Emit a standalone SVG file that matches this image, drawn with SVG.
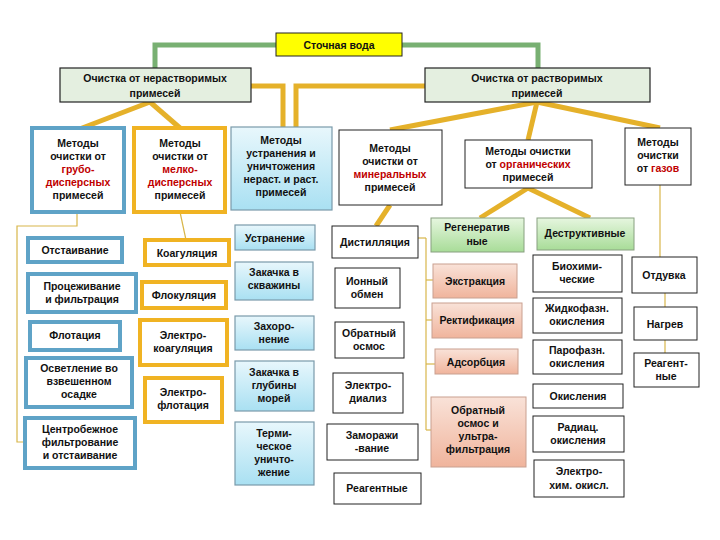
<svg xmlns="http://www.w3.org/2000/svg" width="720" height="540" viewBox="0 0 720 540">
<defs>
<linearGradient id="cy" x1="0" y1="0" x2="0" y2="1"><stop offset="0" stop-color="#e8f7fc"/><stop offset="1" stop-color="#a9e0f2"/></linearGradient>
<linearGradient id="sal" x1="0" y1="0" x2="0" y2="1"><stop offset="0" stop-color="#f9e2d8"/><stop offset="1" stop-color="#f0b49c"/></linearGradient>
<linearGradient id="gr" x1="0" y1="0" x2="0" y2="1"><stop offset="0" stop-color="#e6f6df"/><stop offset="1" stop-color="#a8dc98"/></linearGradient>
</defs>
<style>
text{font-family:"Liberation Sans",Arial,sans-serif;font-size:10.5px;font-weight:bold !important;fill:#111;text-anchor:middle}
.r{fill:#c00000}
.top{fill:#ffff00;stroke:#222;stroke-width:1}
.lg{fill:#e4efe0;stroke:#222;stroke-width:1.2}
.bl{fill:#fff;stroke:#5fa3c7;stroke-width:4}
.or{fill:#fff;stroke:#f0b323;stroke-width:4}
.cy{fill:url(#cy);stroke:#7a9aaa;stroke-width:1.2}
.wh{fill:#fff;stroke:#222;stroke-width:1}
.sa{fill:url(#sal);stroke:#c9a090;stroke-width:1}
.gn{fill:url(#gr);stroke:#88a080;stroke-width:1}
.cg{fill:none;stroke:#78b072;stroke-width:5}
.co{fill:none;stroke:#e5b12a;stroke-width:5}
.ct{fill:none;stroke:#d8b64a;stroke-width:1.2}
</style>
<g id="connectors">
<polyline class="cg" points="276,45 155,45 155,68"/>
<polyline class="cg" points="402,45 538,45 538,68"/>
<polyline class="co" points="251,86 283,86 283,128"/>
<polyline class="co" points="425,86 296,86 296,128"/>
<line class="co" x1="150" y1="102" x2="77" y2="130"/>
<line class="co" x1="150" y1="102" x2="180" y2="128"/>
<line class="co" x1="537" y1="102" x2="390" y2="130"/>
<line class="co" x1="537" y1="102" x2="528" y2="140"/>
<line class="co" x1="537" y1="102" x2="660" y2="128"/>
<line class="co" x1="390" y1="205" x2="376" y2="226"/>
<line class="co" x1="528" y1="188" x2="480" y2="218"/>
<line class="co" x1="528" y1="188" x2="590" y2="218"/>
<polyline class="ct" points="77,212 77,226 17,226 17,442 25,442"/>
<line class="ct" x1="180" y1="212" x2="186" y2="240"/>
<polyline class="ct" points="418,238 426,238"/>
<line class="ct" x1="426" y1="238" x2="426" y2="430"/>
<line class="ct" x1="426" y1="280" x2="433" y2="280"/>
<line class="ct" x1="426" y1="320" x2="432" y2="320"/>
<line class="ct" x1="426" y1="364" x2="435" y2="364"/>
<line class="ct" x1="426" y1="430" x2="431" y2="430"/>
<line class="ct" x1="660" y1="185" x2="660" y2="257"/>
<line class="ct" x1="665" y1="293" x2="665" y2="307"/>
<line class="ct" x1="665" y1="340" x2="665" y2="353"/>
</g>
<g id="n-top"><rect class="top" x="276" y="33" width="126" height="23"/><text x="339" y="49">Сточная вода</text></g>
<g id="n-insol"><rect class="lg" x="60" y="68" width="191" height="34"/><text x="155" y="82">Очистка от нерастворимых</text><text x="155" y="97">примесей</text></g>
<g id="n-sol"><rect class="lg" x="425" y="68" width="225" height="34"/><text x="537" y="82">Очистка от растворимых</text><text x="537" y="97">примесей</text></g>
<g id="n-coarse"><rect class="bl" x="32" y="128" width="92" height="84"/><text x="78" y="147">Методы</text><text x="78" y="160">очистки от</text><text x="78" y="173" class="r">грубо-</text><text x="78" y="186" class="r">дисперсных</text><text x="78" y="199">примесей</text></g>
<g id="n-fine"><rect class="or" x="134" y="128" width="91" height="84"/><text x="180" y="147">Методы</text><text x="180" y="160">очистки от</text><text x="180" y="173" class="r">мелко-</text><text x="180" y="186" class="r">дисперсных</text><text x="180" y="199">примесей</text></g>
<g id="n-elim"><rect class="cy" x="231" y="127" width="101" height="83"/><text x="281" y="144">Методы</text><text x="281" y="157">устранения и</text><text x="281" y="170">уничтожения</text><text x="281" y="183">нераст. и раст.</text><text x="281" y="196">примесей</text></g>
<g id="n-min"><rect class="wh" x="339" y="130" width="103" height="75"/><text x="390" y="152">Методы</text><text x="390" y="165">очистки от</text><text x="390" y="178" class="r">минеральных</text><text x="390" y="191">примесей</text></g>
<g id="n-org"><rect class="wh" x="465" y="140" width="127" height="48"/><text x="528" y="155">Методы очистки</text><text x="528" y="168">от <tspan class="r">органических</tspan></text><text x="528" y="181">примесей</text></g>
<g id="n-gas"><rect class="wh" x="625" y="128" width="66" height="57"/><text x="658" y="146">Методы</text><text x="658" y="159">очистки</text><text x="658" y="172">от <tspan class="r">газов</tspan></text></g>
<g id="n-b1"><rect class="bl" x="28" y="238" width="94" height="24"/><text x="75" y="254">Отстаивание</text></g>
<g id="n-b2"><rect class="bl" x="28" y="274" width="108" height="38"/><text x="82" y="290">Процеживание</text><text x="82" y="303">и фильтрация</text></g>
<g id="n-b3"><rect class="bl" x="30" y="322" width="90" height="28"/><text x="75" y="339">Флотация</text></g>
<g id="n-b4"><rect class="bl" x="26" y="358" width="106" height="49"/><text x="79" y="372">Осветление во</text><text x="79" y="385">взвешенном</text><text x="79" y="398">осадке</text></g>
<g id="n-b5"><rect class="bl" x="25" y="418" width="110" height="50"/><text x="80" y="433">Центробежное</text><text x="80" y="446">фильтрование</text><text x="80" y="459">и отстаивание</text></g>
<g id="n-o1"><rect class="or" x="145" y="240" width="84" height="25"/><text x="187" y="257">Коагуляция</text></g>
<g id="n-o2"><rect class="or" x="142" y="282" width="84" height="26"/><text x="184" y="299">Флокуляция</text></g>
<g id="n-o3"><rect class="or" x="140" y="320" width="87" height="45"/><text x="183" y="339">Электро-</text><text x="183" y="352">коагуляция</text></g>
<g id="n-o4"><rect class="or" x="145" y="378" width="77" height="44"/><text x="183" y="396">Электро-</text><text x="183" y="409">флотация</text></g>
<g id="n-c1"><rect class="cy" x="235" y="225" width="80" height="25"/><text x="275" y="242">Устранение</text></g>
<g id="n-c2"><rect class="cy" x="235" y="262" width="78" height="38"/><text x="274" y="276">Закачка в</text><text x="274" y="289">скважины</text></g>
<g id="n-c3"><rect class="cy" x="235" y="316" width="79" height="34"/><text x="274" y="330">Захоро-</text><text x="274" y="343">нение</text></g>
<g id="n-c4"><rect class="cy" x="235" y="361" width="79" height="50"/><text x="274" y="376">Закачка в</text><text x="274" y="389">глубины</text><text x="274" y="402">морей</text></g>
<g id="n-c5"><rect class="cy" x="235" y="422" width="79" height="63"/><text x="274" y="437">Терми-</text><text x="274" y="450">ческое</text><text x="274" y="463">уничто-</text><text x="274" y="476">жение</text></g>
<g id="n-m1"><rect class="wh" x="332" y="226" width="86" height="32"/><text x="375" y="246">Дистилляция</text></g>
<g id="n-m2"><rect class="wh" x="335" y="268" width="65" height="40"/><text x="367" y="285">Ионный</text><text x="367" y="298">обмен</text></g>
<g id="n-m3"><rect class="wh" x="335" y="322" width="69" height="36"/><text x="369" y="337">Обратный</text><text x="369" y="350">осмос</text></g>
<g id="n-m4"><rect class="wh" x="333" y="373" width="70" height="40"/><text x="368" y="389">Электро-</text><text x="368" y="402">диализ</text></g>
<g id="n-m5"><rect class="wh" x="327" y="424" width="91" height="36"/><text x="372" y="439">Заморажи</text><text x="372" y="452">-вание</text></g>
<g id="n-m6"><rect class="wh" x="334" y="473" width="87" height="31"/><text x="377" y="492">Реагентные</text></g>
<g id="n-reg"><rect class="gn" x="431" y="218" width="93" height="34"/><text x="477" y="231">Регенератив</text><text x="477" y="245">ные</text></g>
<g id="n-des"><rect class="gn" x="537" y="218" width="97" height="32"/><text x="585" y="237">Деструктивные</text></g>
<g id="n-s1"><rect class="sa" x="433" y="264" width="84" height="34"/><text x="475" y="285">Экстракция</text></g>
<g id="n-s2"><rect class="sa" x="432" y="303" width="90" height="35"/><text x="477" y="324">Ректификация</text></g>
<g id="n-s3"><rect class="sa" x="435" y="349" width="83" height="25"/><text x="476" y="366">Адсорбция</text></g>
<g id="n-s4"><rect class="sa" x="431" y="397" width="95" height="70"/><text x="478" y="414">Обратный</text><text x="478" y="427">осмос и</text><text x="478" y="440">ультра-</text><text x="478" y="453">фильтрация</text></g>
<g id="n-d1"><rect class="wh" x="533" y="255" width="89" height="37"/><text x="577" y="270">Биохими-</text><text x="577" y="283">ческие</text></g>
<g id="n-d2"><rect class="wh" x="533" y="298" width="89" height="35"/><text x="577" y="312">Жидкофазн.</text><text x="577" y="325">окисления</text></g>
<g id="n-d3"><rect class="wh" x="533" y="340" width="89" height="34"/><text x="577" y="354">Парофазн.</text><text x="577" y="367">окисления</text></g>
<g id="n-d4"><rect class="wh" x="533" y="384" width="90" height="24"/><text x="578" y="400">Окисления</text></g>
<g id="n-d5"><rect class="wh" x="533" y="416" width="91" height="36"/><text x="578" y="431">Радиац.</text><text x="578" y="444">окисления</text></g>
<g id="n-d6"><rect class="wh" x="534" y="460" width="90" height="37"/><text x="579" y="475">Электро-</text><text x="579" y="489">хим. окисл.</text></g>
<g id="n-g1"><rect class="wh" x="632" y="257" width="65" height="36"/><text x="664" y="279">Отдувка</text></g>
<g id="n-g2"><rect class="wh" x="634" y="307" width="63" height="33"/><text x="665" y="328">Нагрев</text></g>
<g id="n-g3"><rect class="wh" x="634" y="353" width="65" height="34"/><text x="666" y="367">Реагент-</text><text x="666" y="380">ные</text></g>
</svg>
